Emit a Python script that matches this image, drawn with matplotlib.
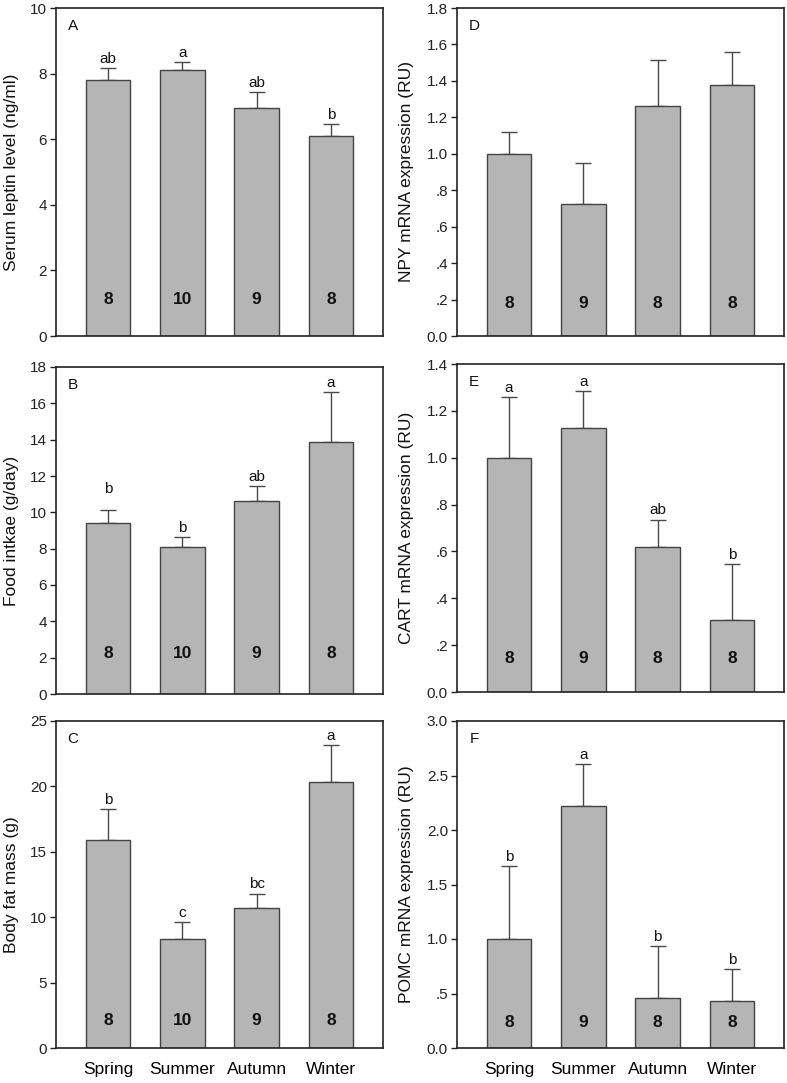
import matplotlib
matplotlib.use("Agg")
import matplotlib.pyplot as plt
from matplotlib.ticker import FuncFormatter

plt.rcParams['font.family'] = ['Liberation Sans', 'DejaVu Sans']

seasons = ["Spring", "Summer", "Autumn", "Winter"]

# Panel A: Serum leptin
leptin_mean = [7.82, 8.11, 6.96, 6.10]
leptin_err = [0.34, 0.24, 0.49, 0.37]
leptin_letters = ["ab", "a", "ab", "b"]
leptin_n = [8, 10, 9, 8]

# Panel B: Food intake
food_mean = [9.43, 8.09, 10.61, 13.85]
food_err = [0.68, 0.57, 0.84, 2.77]
food_letters = ["b", "b", "ab", "a"]
food_n = [8, 10, 9, 8]

# Panel C: Body fat mass
fat_mean = [15.94, 8.30, 10.74, 20.32]
fat_err = [2.36, 1.32, 1.07, 2.87]
fat_letters = ["b", "c", "bc", "a"]
fat_n = [8, 10, 9, 8]

# Panel D: NPY
npy_mean = [1.00, 0.725, 1.262, 1.376]
npy_err = [0.12, 0.224, 0.252, 0.183]
npy_letters = ["", "", "", ""]
npy_n = [8, 9, 8, 8]

# Panel E: CART
cart_mean = [1.00, 1.126, 0.618, 0.309]
cart_err = [0.259, 0.16, 0.118, 0.236]
cart_letters = ["a", "a", "ab", "b"]
cart_n = [8, 9, 8, 8]

# Panel F: POMC
pomc_mean = [1.00, 2.224, 0.458, 0.434]
pomc_err = [0.671, 0.379, 0.474, 0.29]
pomc_letters = ["b", "a", "b", "b"]
pomc_n = [8, 9, 8, 8]

W, H = 787, 1083
fig = plt.figure(figsize=(W / 100, H / 100), dpi=100)


def rect(left, top, bottom, width=327):
    return [left / W, (H - bottom) / H, width / W, (bottom - top) / H]


def fmt_left(v, pos):
    return "%d" % round(v)


def fmt_right(v, pos):
    s = "%.1f" % v
    if 0 < abs(v) < 1:
        s = s.replace("0.", ".")
    return s


panels = [
    dict(r=rect(56, 8, 336), mean=leptin_mean, err=leptin_err, let=leptin_letters, n=leptin_n,
         ylim=(0, 10), ticks=[0, 2, 4, 6, 8, 10], fmt=fmt_left, label="Serum leptin level (ng/ml)",
         tag="A", ny=1.12, lx=-0.112, extra=[0, 0, 0, 0]),
    dict(r=rect(56, 367, 694), mean=food_mean, err=food_err, let=food_letters, n=food_n,
         ylim=(0, 18), ticks=list(range(0, 19, 2)), fmt=fmt_left, label="Food intkae (g/day)",
         tag="B", ny=2.25, lx=-0.112, extra=[9, 0, 0, 0]),
    dict(r=rect(56, 721, 1048), mean=fat_mean, err=fat_err, let=fat_letters, n=fat_n,
         ylim=(0, 25), ticks=[0, 5, 10, 15, 20, 25], fmt=fmt_left, label="Body fat mass (g)",
         tag="C", ny=2.1, lx=-0.112, extra=[0, 0, 0, 0], xl=True),
    dict(r=rect(457, 8, 336), mean=npy_mean, err=npy_err, let=npy_letters, n=npy_n,
         ylim=(0, 1.8), ticks=[0, .2, .4, .6, .8, 1.0, 1.2, 1.4, 1.6, 1.8], fmt=fmt_right,
         label="NPY mRNA expression (RU)", tag="D", ny=0.18, lx=-0.13, extra=[0, 0, 0, 0]),
    dict(r=rect(457, 364, 692), mean=cart_mean, err=cart_err, let=cart_letters, n=cart_n,
         ylim=(0, 1.4), ticks=[0, .2, .4, .6, .8, 1.0, 1.2, 1.4], fmt=fmt_right,
         label="CART mRNA expression (RU)", tag="E", ny=0.145, lx=-0.13, extra=[0, 0, 0, 0]),
    dict(r=rect(457, 721, 1048), mean=pomc_mean, err=pomc_err, let=pomc_letters, n=pomc_n,
         ylim=(0, 3.0), ticks=[0, .5, 1.0, 1.5, 2.0, 2.5, 3.0], fmt=fmt_right,
         label="POMC mRNA expression (RU)", tag="F", ny=0.23, lx=-0.13, extra=[0, 0, 0, 0], xl=True),
]

x = list(range(len(seasons)))
for p in panels:
    ax = fig.add_axes(p["r"])
    ax.bar(x, p["mean"], width=0.6, color="#b5b5b5", edgecolor="#444444", linewidth=1.0, zorder=2)
    ax.errorbar(x, p["mean"], yerr=[[0] * 4, p["err"]], fmt="none", ecolor="#4a4a4a",
                elinewidth=1.0, capsize=5.5, capthick=1.0, zorder=1)
    for xi, m, e, l, ex in zip(x, p["mean"], p["err"], p["let"], p["extra"]):
        if l:
            ax.annotate(l, (xi, m + e), xytext=(0, 1.5 + ex), textcoords="offset points",
                        ha="center", va="bottom", fontsize=11, color="#111111")
    for xi, nn in zip(x, p["n"]):
        ax.text(xi, p["ny"], str(nn), ha="center", va="center", fontsize=12.5,
                fontweight="bold", color="#111111")
    ax.set_xlim(-0.7, 3.7)
    ax.set_ylim(*p["ylim"])
    ax.set_yticks(p["ticks"])
    ax.yaxis.set_major_formatter(FuncFormatter(p["fmt"]))
    ax.tick_params(axis="y", direction="out", length=4.5, width=1.0, labelsize=11,
                   colors="#222222", pad=2)
    ax.tick_params(axis="x", length=0, labelsize=12.5, pad=10)
    ax.set_xticks(x)
    if p.get("xl"):
        ax.set_xticklabels(seasons)
    else:
        ax.set_xticklabels([])
    for s in ax.spines.values():
        s.set_linewidth(1.2)
        s.set_color("#222222")
    ax.set_ylabel(p["label"], fontsize=12.5, color="#111111")
    ax.yaxis.set_label_coords(p["lx"], 0.5)
    ax.text(0.052, 0.945, p["tag"], transform=ax.transAxes, ha="center", va="center",
            fontsize=11, color="#111111")

fig.savefig("out.png", dpi=100)
